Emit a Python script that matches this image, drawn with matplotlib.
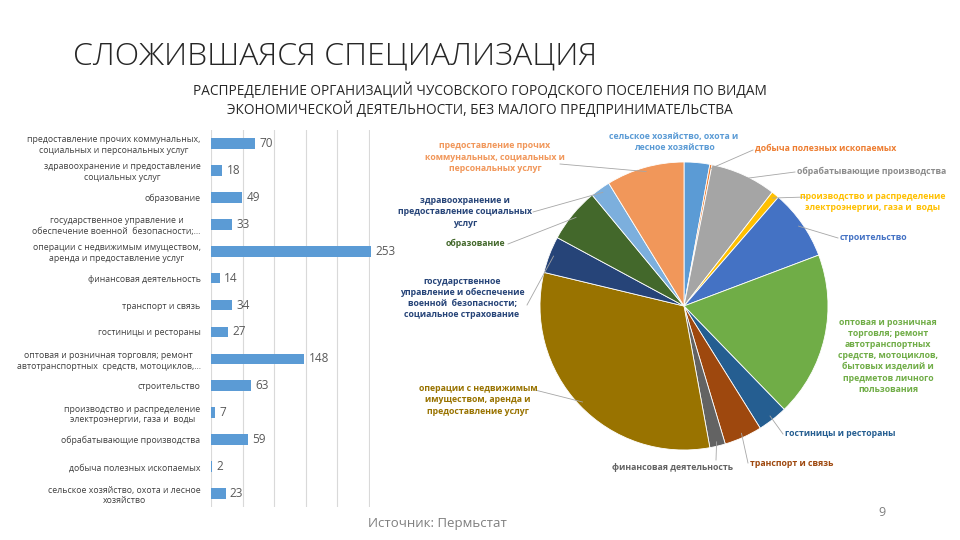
import numpy as np
from matplotlib import pyplot as plt
from matplotlib.lines import Line2D

plt.rcParams['font.family'] = ['Open Sans', 'DejaVu Sans']

# отрасли в порядке строк столбчатой диаграммы (сверху вниз)
bar_labels = [
    "предоставление прочих коммунальных,\nсоциальных и персональных услуг",
    "здравоохранение и предоставление\nсоциальных услуг",
    "образование",
    "государственное управление и\nобеспечение военной  безопасности;...",
    "операции с недвижимым имуществом,\nаренда и предоставление услуг",
    "финансовая деятельность",
    "транспорт и связь",
    "гостиницы и рестораны",
    "оптовая и розничная торговля; ремонт\nавтотранспортных  средств, мотоциклов,...",
    "строительство",
    "производство и распределение\nэлектроэнергии, газа и  воды",
    "обрабатывающие производства",
    "добыча полезных ископаемых",
    "сельское хозяйство, охота и лесное\nхозяйство",
]
bar_values = [70, 18, 49, 33, 253, 14, 34, 27, 148, 63, 7, 59, 2, 23]

# круговая диаграмма: по часовой стрелке от 12 часов
pie_values = [23, 2, 59, 7, 63, 148, 27, 34, 14, 253, 33, 49, 18, 70]
pie_colors = ["#5B9BD5", "#ED7D31", "#A5A5A5", "#FFC000", "#4472C4", "#70AD47",
              "#255E91", "#9E480E", "#636363", "#997300", "#264478", "#43682B",
              "#7CAFDD", "#F1975A"]
pie_labels = [
    "сельское хозяйство, охота и\nлесное хозяйство",
    "добыча полезных ископаемых",
    "обрабатывающие производства",
    "производство и распределение\nэлектроэнергии, газа и  воды",
    "строительство",
    "оптовая и розничная\nторговля; ремонт\nавтотранспортных\nсредств, мотоциклов,\nбытовых изделий и\nпредметов личного\nпользования",
    "гостиницы и рестораны",
    "транспорт и связь",
    "финансовая деятельность",
    "операции с недвижимым\nимуществом, аренда и\nпредоставление услуг",
    "государственное\nуправление и обеспечение\nвоенной  безопасности;\nсоциальное страхование",
    "образование",
    "здравоохранение и\nпредоставление социальных\nуслуг",
    "предоставление прочих\nкоммунальных, социальных и\nперсональных услуг",
]
label_colors = ["#5B9BD5", "#ED7D31", "#8C8C8C", "#FFC000", "#4472C4", "#70AD47",
                "#255E91", "#9E480E", "#636363", "#997300", "#264478", "#43682B",
                "#264478", "#F1975A"]
# положение подписей (пиксели), выравнивание, конец выноски
label_pos = [(674, 142, 'center', None), (755, 149, 'left', (753, 150)),
             (797, 171, 'left', (795, 172)), (873, 202, 'center', (806, 197)),
             (840, 237, 'left', (838, 238)), (888, 356, 'center', None),
             (785, 433, 'left', (783, 434)), (750, 463, 'left', (748, 463)),
             (672, 467, 'center', (716, 460)), (478, 400, 'center', (535, 390)),
             (462, 298, 'center', (527, 305)), (475, 243, 'center', (508, 244)),
             (465, 212, 'center', (533, 212)), (495, 157, 'center', (560, 164))]

W, H = 960, 540
fig = plt.figure(figsize=(9.6, 5.4), dpi=100)

def fx(x):
    return x / W

def fy(y):
    return 1 - y / H

fig.text(fx(73), fy(56), "СЛОЖИВШАЯСЯ СПЕЦИАЛИЗАЦИЯ", fontsize=23, color="#262626",
         va='center', ha='left', fontweight='light')
fig.text(fx(480), fy(100), "РАСПРЕДЕЛЕНИЕ ОРГАНИЗАЦИЙ ЧУСОВСКОГО ГОРОДСКОГО ПОСЕЛЕНИЯ ПО ВИДАМ\n"
         "ЭКОНОМИЧЕСКОЙ ДЕЯТЕЛЬНОСТИ, БЕЗ МАЛОГО ПРЕДПРИНИМАТЕЛЬСТВА",
         fontsize=9.8, ha='center', va='center', color="#262626", linespacing=1.2)
fig.text(fx(437), fy(523), "Источник: Пермьстат", fontsize=9.5, ha='center', va='center',
         color="#7f7f7f")
fig.text(fx(882), fy(513), "9", fontsize=9, ha='center', va='center', color="#7f7f7f")

# столбчатая диаграмма
ax = fig.add_axes([fx(211), fy(507), fx(370) - fx(211), fy(130) - fy(507)])
y = np.arange(len(bar_values))
ax.barh(y, bar_values, height=0.4, color="#5B9BD5", clip_on=False)
ax.set_ylim(len(bar_values) - 0.5, -0.5)
ax.set_xlim(0, 252)
ax.set_xticks([0, 50, 100, 150, 200, 250])
ax.xaxis.grid(True, color="#D9D9D9", linewidth=0.8)
ax.set_axisbelow(True)
ax.tick_params(axis='x', bottom=False, labelbottom=False)
ax.tick_params(axis='y', left=False, pad=4)
ax.set_yticks(y)
ax.set_yticklabels(bar_labels, fontsize=6.3, color="#404040", linespacing=1.25,
                   multialignment='center')
for s in ax.spines.values():
    s.set_visible(False)
for i, v in enumerate(bar_values):
    ax.text(v + 7, i, str(v), va='center', ha='left', fontsize=8.5, color="#595959",
            clip_on=False)

# круговая диаграмма
cx, cy, r = 684, 306, 144
pax = fig.add_axes([fx(cx - r), fy(cy + r), 2 * r / W, 2 * r / H])
pax.pie(pie_values, colors=pie_colors, startangle=90, counterclock=False, radius=1,
        wedgeprops=dict(linewidth=0.6, edgecolor='white'))
pax.set_xlim(-1, 1)
pax.set_ylim(-1, 1)
pax.set_axis_off()

total = sum(pie_values)
cum = np.cumsum([0] + pie_values)
for i, lab in enumerate(pie_labels):
    lx, ly, ha, end = label_pos[i]
    fig.text(fx(lx), fy(ly), lab, fontsize=6.3, fontweight='bold', color=label_colors[i],
             ha=ha, va='center', multialignment='center', linespacing=1.3)
    if end is None:
        continue
    ang = np.deg2rad(90 - (cum[i] + pie_values[i] / 2) * 360 / total)
    px = cx + 0.97 * r * np.cos(ang)
    py = cy - 0.97 * r * np.sin(ang)
    fig.add_artist(Line2D([fx(px), fx(end[0])], [fy(py), fy(end[1])],
                          color="#A6A6A6", linewidth=0.6))

fig.savefig("out.png", dpi=100)
